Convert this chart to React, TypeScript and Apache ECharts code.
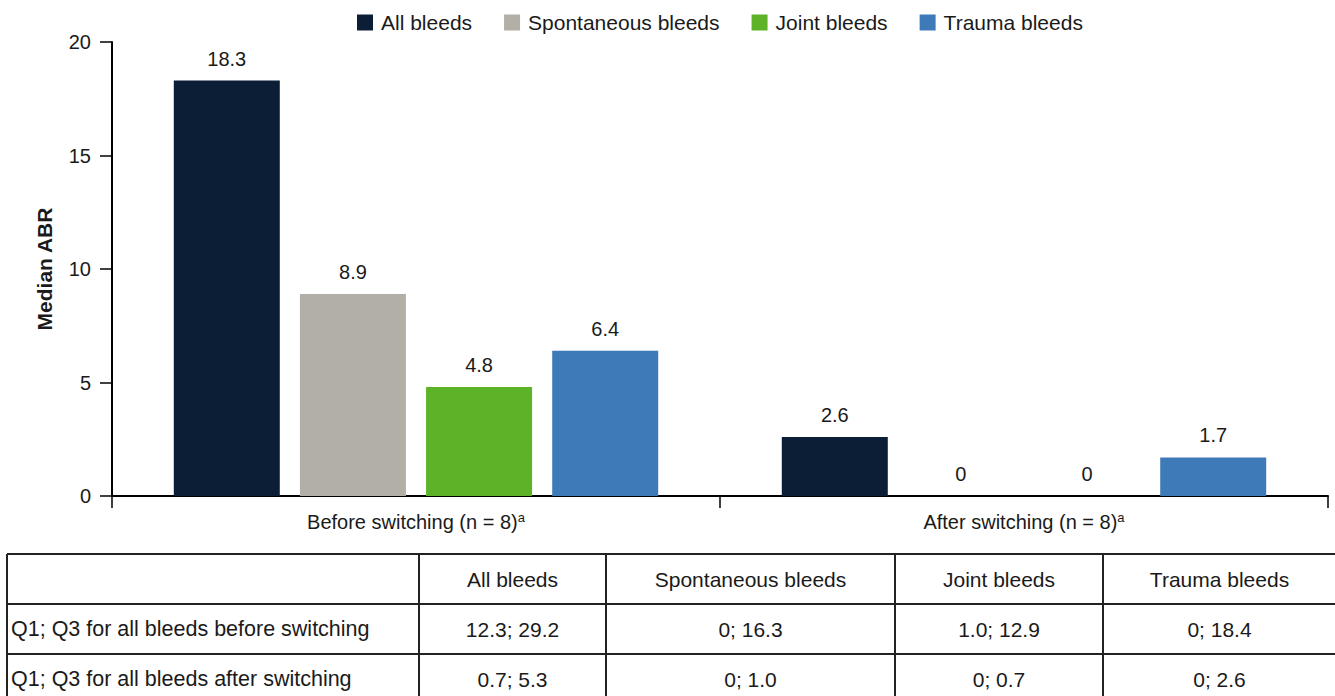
import React, { useEffect, useRef } from "react";
import * as echarts from "echarts";

const categories = ["Before switching (n = 8)", "After switching (n = 8)"];
const seriesNames = ["All bleeds", "Spontaneous bleeds", "Joint bleeds", "Trauma bleeds"];
const allBleeds = [18.3, 2.6];
const spontaneousBleeds = [8.9, 0];
const jointBleeds = [4.8, 0];
const traumaBleeds = [6.4, 1.7];
const colors = ["#0c1e36", "#b2afa7", "#5db327", "#3e7ab8"];

const tableHeader = ["", "All bleeds", "Spontaneous bleeds", "Joint bleeds", "Trauma bleeds"];
const tableRowBefore = ["Q1; Q3 for all bleeds before switching", "12.3; 29.2", "0; 16.3", "1.0; 12.9", "0; 18.4"];
const tableRowAfter = ["Q1; Q3 for all bleeds after switching", "0.7; 5.3", "0; 1.0", "0; 0.7", "0; 2.6"];

const FONT = "Liberation Sans, Arial, sans-serif";
const TEXT = "#1a1a1a";

export default function App() {
  const ref = useRef<HTMLDivElement>(null);
  useEffect(() => {
    document.body.style.margin = "0";
    if (!ref.current) return;
    const chart = echarts.init(ref.current, null, { renderer: "svg" });

    const colX = [7, 419, 606, 895, 1103, 1336];
    const rowY = [554, 604, 654, 704];
    const rows = [tableHeader, tableRowBefore, tableRowAfter];
    const graphic: any[] = [];
    const lineStyle = { stroke: "#222", lineWidth: 2 };
    rowY.forEach((y) => {
      graphic.push({ type: "line", shape: { x1: colX[0], y1: y, x2: colX[colX.length - 1], y2: y }, style: lineStyle, silent: true });
    });
    colX.forEach((x) => {
      graphic.push({ type: "line", shape: { x1: x, y1: rowY[0], x2: x, y2: rowY[rowY.length - 1] }, style: lineStyle, silent: true });
    });
    rows.forEach((row, ri) => {
      const cy = (rowY[ri] + rowY[ri + 1]) / 2;
      row.forEach((cell, ci) => {
        if (!cell) return;
        const left = ci === 0;
        graphic.push({
          type: "text",
          x: left ? colX[0] + 4 : (colX[ci] + colX[ci + 1]) / 2,
          y: cy,
          silent: true,
          style: {
            text: cell,
            font: `${left ? 21.5 : 21}px ${FONT}`,
            fill: TEXT,
            align: left ? "left" : "center",
            verticalAlign: "middle",
          },
        });
      });
    });

    const dataSets = [allBleeds, spontaneousBleeds, jointBleeds, traumaBleeds];

    chart.setOption({
      animation: false,
      textStyle: { fontFamily: FONT },
      legend: {
        data: seriesNames,
        left: 357,
        top: 12,
        padding: 0,
        itemWidth: 16,
        itemHeight: 16,
        itemGap: 32,
        icon: "rect",
        textStyle: { fontSize: 21, color: TEXT, fontFamily: FONT, padding: [0, 0, 0, 3] },
      },
      grid: { left: 112, right: 7, top: 42, bottom: 200 },
      xAxis: {
        type: "category",
        data: categories,
        boundaryGap: true,
        axisLine: { lineStyle: { color: "#000", width: 2 } },
        axisTick: { show: true, length: 12, inside: false, lineStyle: { color: "#000", width: 1.5 }, alignWithLabel: false },
        axisLabel: {
          margin: 15,
          formatter: (v: string) => `{m|${v}}{s|a}`,
          rich: {
            m: { fontSize: 20, color: TEXT, fontFamily: FONT, lineHeight: 22 },
            s: { fontSize: 13, color: TEXT, fontFamily: FONT, verticalAlign: "top", lineHeight: 22, padding: [0, 0, 8, 0] },
          },
        },
      },
      yAxis: {
        type: "value",
        min: 0,
        max: 20,
        interval: 5,
        name: "Median ABR",
        nameLocation: "middle",
        nameGap: 57,
        nameTextStyle: { fontSize: 21, fontWeight: "bold", color: TEXT, fontFamily: FONT },
        axisLine: { show: true, lineStyle: { color: "#000", width: 2 } },
        axisTick: { show: true, length: 12, inside: false, lineStyle: { color: "#000", width: 1.5 } },
        axisLabel: { fontSize: 20, color: TEXT, margin: 21, fontFamily: FONT },
        splitLine: { show: false },
      },
      series: dataSets.map((d, i) => ({
        name: seriesNames[i],
        type: "bar",
        data: d,
        barWidth: 106,
        barGap: "19%",
        itemStyle: { color: colors[i] },
        label: { show: true, position: "top", distance: 12, fontSize: 20, color: TEXT, fontFamily: FONT },
      })),
      graphic,
    });
    return () => chart.dispose();
  }, []);
  return <div ref={ref} style={{ width: 1335, height: 696 }} />;
}
